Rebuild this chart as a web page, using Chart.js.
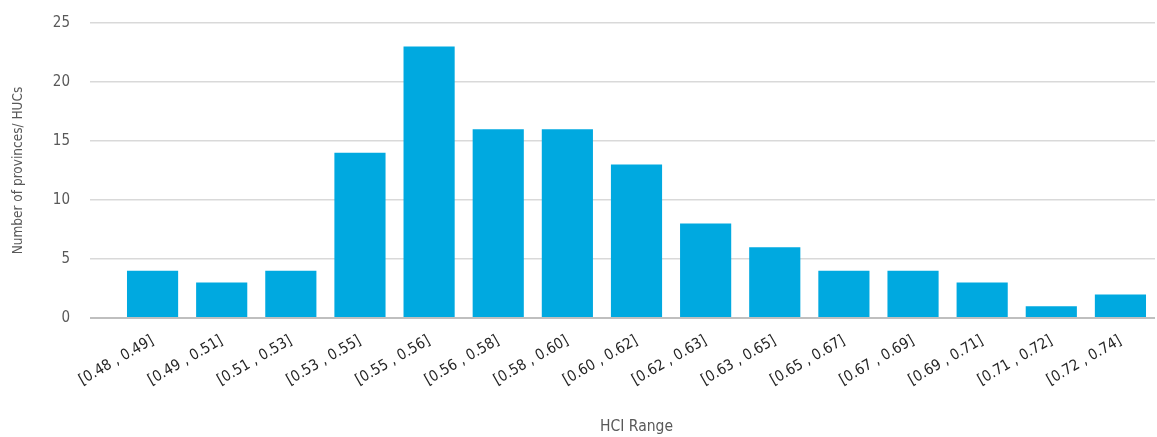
<!DOCTYPE html>
<html>
<head>
<meta charset="utf-8">
<title>HCI Range</title>
<script src="https://cdn.jsdelivr.net/npm/chart.js@4/dist/chart.umd.min.js"></script>
<style>
  html, body { margin: 0; padding: 0; background: #fff; }
  #wrap { width: 1157px; height: 437px; position: relative; }
</style>
</head>
<body>
<div id="wrap"><canvas id="chart"></canvas></div>
<script>
// HCI ranges and number of provinces / HUCs in each
var RANGES = [
  '[0.48 , 0.49]', '[0.49 , 0.51]', '[0.51 , 0.53]', '[0.53 , 0.55]', '[0.55 , 0.56]',
  '[0.56 , 0.58]', '[0.58 , 0.60]', '[0.60 , 0.62]', '[0.62 , 0.63]', '[0.63 , 0.65]',
  '[0.65 , 0.67]', '[0.67 , 0.69]', '[0.69 , 0.71]', '[0.71 , 0.72]', '[0.72 , 0.74]'
];
var COUNTS = [4, 3, 4, 14, 23, 16, 16, 13, 8, 6, 4, 4, 3, 1, 2];
var Y_TICKS = [0, 5, 10, 15, 20, 25];

var FONT = "'DejaVu Sans Condensed', 'Roboto', sans-serif";
var BAR_BLUE = '#00a9e0';

function gridColor(ctx) { return ctx.tick && ctx.tick.value === 0 ? '#bfbfbf' : '#d9d9d9'; }
function gridWidth(ctx) { return ctx.tick && ctx.tick.value === 0 ? 2 : 1.5; }

new Chart(document.getElementById('chart'), {
  type: 'bar',
  data: {
    labels: RANGES,
    datasets: [{
      data: COUNTS,
      backgroundColor: BAR_BLUE,
      borderWidth: 0,
      barPercentage: 0.74,
      categoryPercentage: 1
    }]
  },
  options: {
    responsive: true,
    maintainAspectRatio: false,
    animation: false,
    layout: { padding: { top: 23, right: 2, left: 10, bottom: 0 } },
    plugins: { legend: { display: false }, tooltip: { enabled: false } },
    scales: {
      x: {
        grid: { display: false },
        border: { display: false },
        ticks: {
          color: '#262626',
          font: { family: FONT, size: 15 },
          minRotation: 30,
          maxRotation: 30,
          padding: 6
        },
        title: {
          display: true,
          text: 'HCI Range',
          color: '#595959',
          font: { family: FONT, size: 15.5 },
          padding: { top: 0, bottom: 1 }
        },
        afterFit: function (s) { s.height = 119; }
      },
      y: {
        min: 0,
        max: 25,
        afterBuildTicks: function (s) {
          s.ticks = Y_TICKS.map(function (v) { return { value: v }; });
        },
        grid: {
          color: gridColor,
          lineWidth: gridWidth,
          tickColor: gridColor,
          tickWidth: gridWidth,
          tickLength: 28,
          drawTicks: true
        },
        border: { display: false },
        ticks: {
          color: '#595959',
          font: { family: FONT, size: 15 },
          padding: 20
        },
        title: {
          display: true,
          text: 'Number of provinces/ HUCs',
          color: '#595959',
          font: { family: FONT, size: 13.5 },
          padding: { top: 0, bottom: 0 }
        },
        afterFit: function (s) {
          // fixed axis width; the label gap should not push the plot down
          s.width = 108;
          s.paddingTop = 0;
          s.paddingBottom = 0;
        }
      }
    }
  }
});
</script>
</body>
</html>
